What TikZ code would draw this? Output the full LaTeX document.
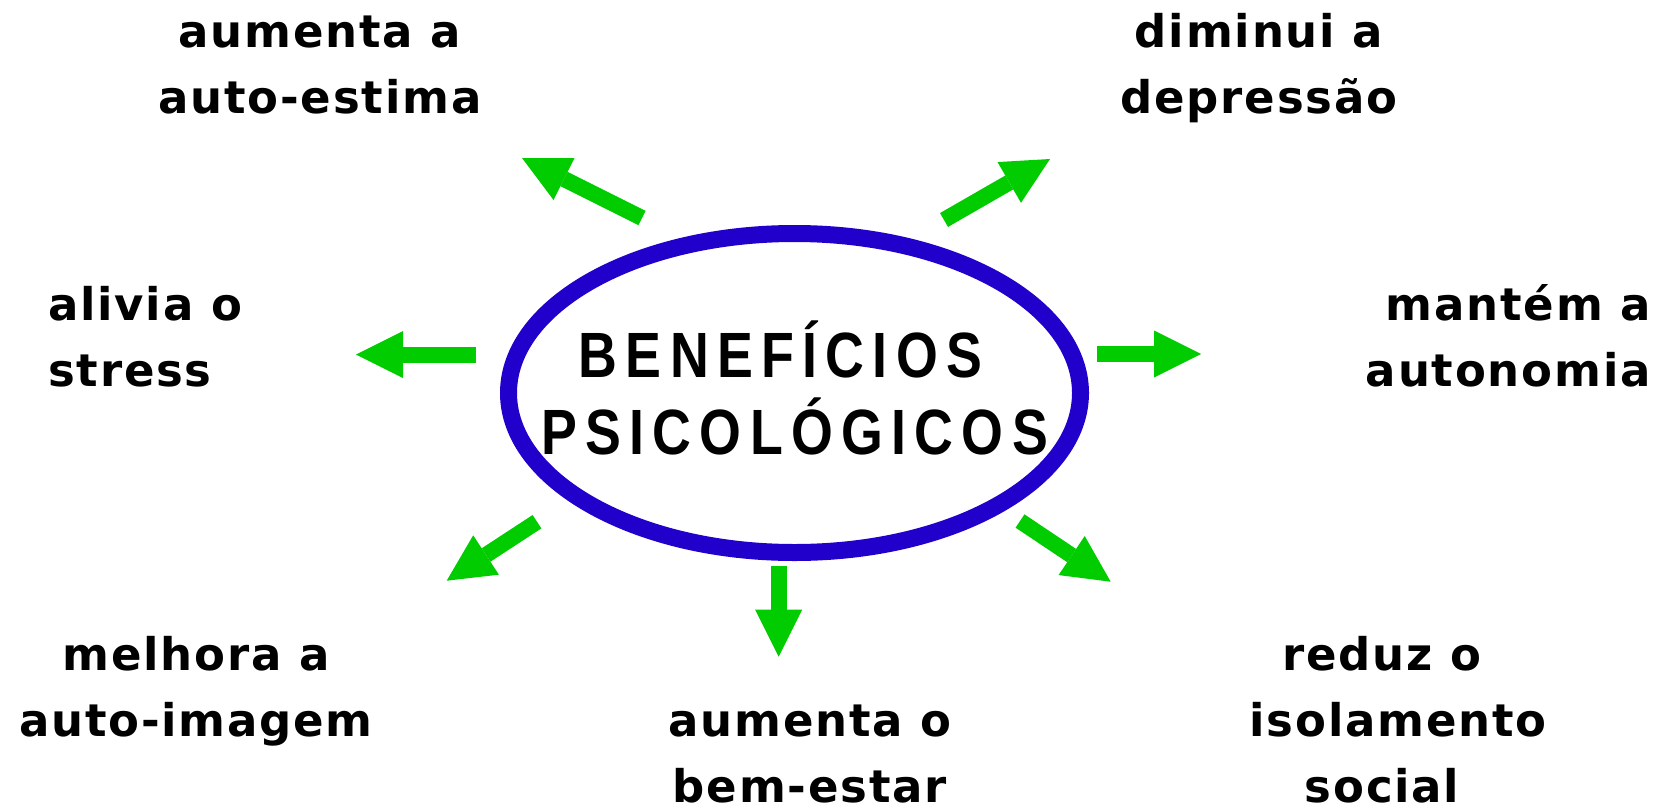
\documentclass[tikz,border=0pt]{standalone}
\usepackage{fontspec}
\usetikzlibrary{arrows.meta,shapes.geometric}
\setmainfont{DejaVu Sans}
\newfontfamily\labfont{DejaVu Sans}[LetterSpace=4]
\newfontfamily\ttlfont{Liberation Sans}[FakeStretch=0.84,LetterSpace=13]
\definecolor{ringblue}{RGB}{34,0,204}
\definecolor{argreen}{RGB}{0,204,0}
\tikzset{
  lab/.style={inner sep=0pt, font=\labfont\bfseries\fontsize{45pt}{66pt}\selectfont},
  ttl/.style={inner sep=0pt, align=center, font=\ttlfont\bfseries\fontsize{64pt}{77pt}\selectfont},
  ring/.style={ellipse, draw=ringblue, line width=17pt, inner sep=0pt, minimum width=572pt, minimum height=319pt},
  garrow/.style={draw=argreen, line width=16pt, -{Triangle[length=47pt,width=47pt,line width=0pt]}}
}
\begin{document}
\begin{tikzpicture}[x=1pt,y=-1pt]
\useasboundingbox (0,0) rectangle (1667,811);
\node[ring] (ell) at (794.5,393) {};
\node[ttl, anchor=base] (title) at (794.5,454) {BENEFÍCIOS\hspace*{28pt}\\PSICOLÓGICOS};
% labels (anchor base = last line's baseline)
\node[lab, align=center, anchor=base] (l1) at (320,113) {aumenta a\\auto-estima};
\node[lab, align=center, anchor=base] (l2) at (1259,113) {diminui a\\depressão};
\node[lab, align=left, anchor=base west] (l3) at (48,386) {alivia o\\stress};
\node[lab, align=right, anchor=base east] (l4) at (1651,386) {mantém a\\autonomia};
\node[lab, align=center, anchor=base] (l5) at (196,736) {melhora a\\auto-imagem};
\node[lab, align=center, anchor=base] (l6) at (810,802) {aumenta o\\bem-estar};
\node[lab, align=center, anchor=base] (l7) at (1382,802) {reduz o\\\hspace*{32pt}isolamento\\social};
% arrow ends
\coordinate (a1s) at (642,218); \coordinate (a1e) at (522,158);
\coordinate (a2s) at (944,220); \coordinate (a2e) at (1050,159);
\coordinate (a3s) at (476,354.5); \coordinate (a3e) at (356,354.5);
\coordinate (a4s) at (1097,354); \coordinate (a4e) at (1201,354);
\coordinate (a5s) at (537,521.7); \coordinate (a5e) at (446.7,580.7);
\coordinate (a6s) at (778.7,566); \coordinate (a6e) at (778.7,656.7);
\coordinate (a7s) at (1020,521); \coordinate (a7e) at (1110.7,581.7);
\foreach \i in {1,...,7} { \draw[garrow] (a\i s) -- (a\i e); }
\end{tikzpicture}
\end{document}
